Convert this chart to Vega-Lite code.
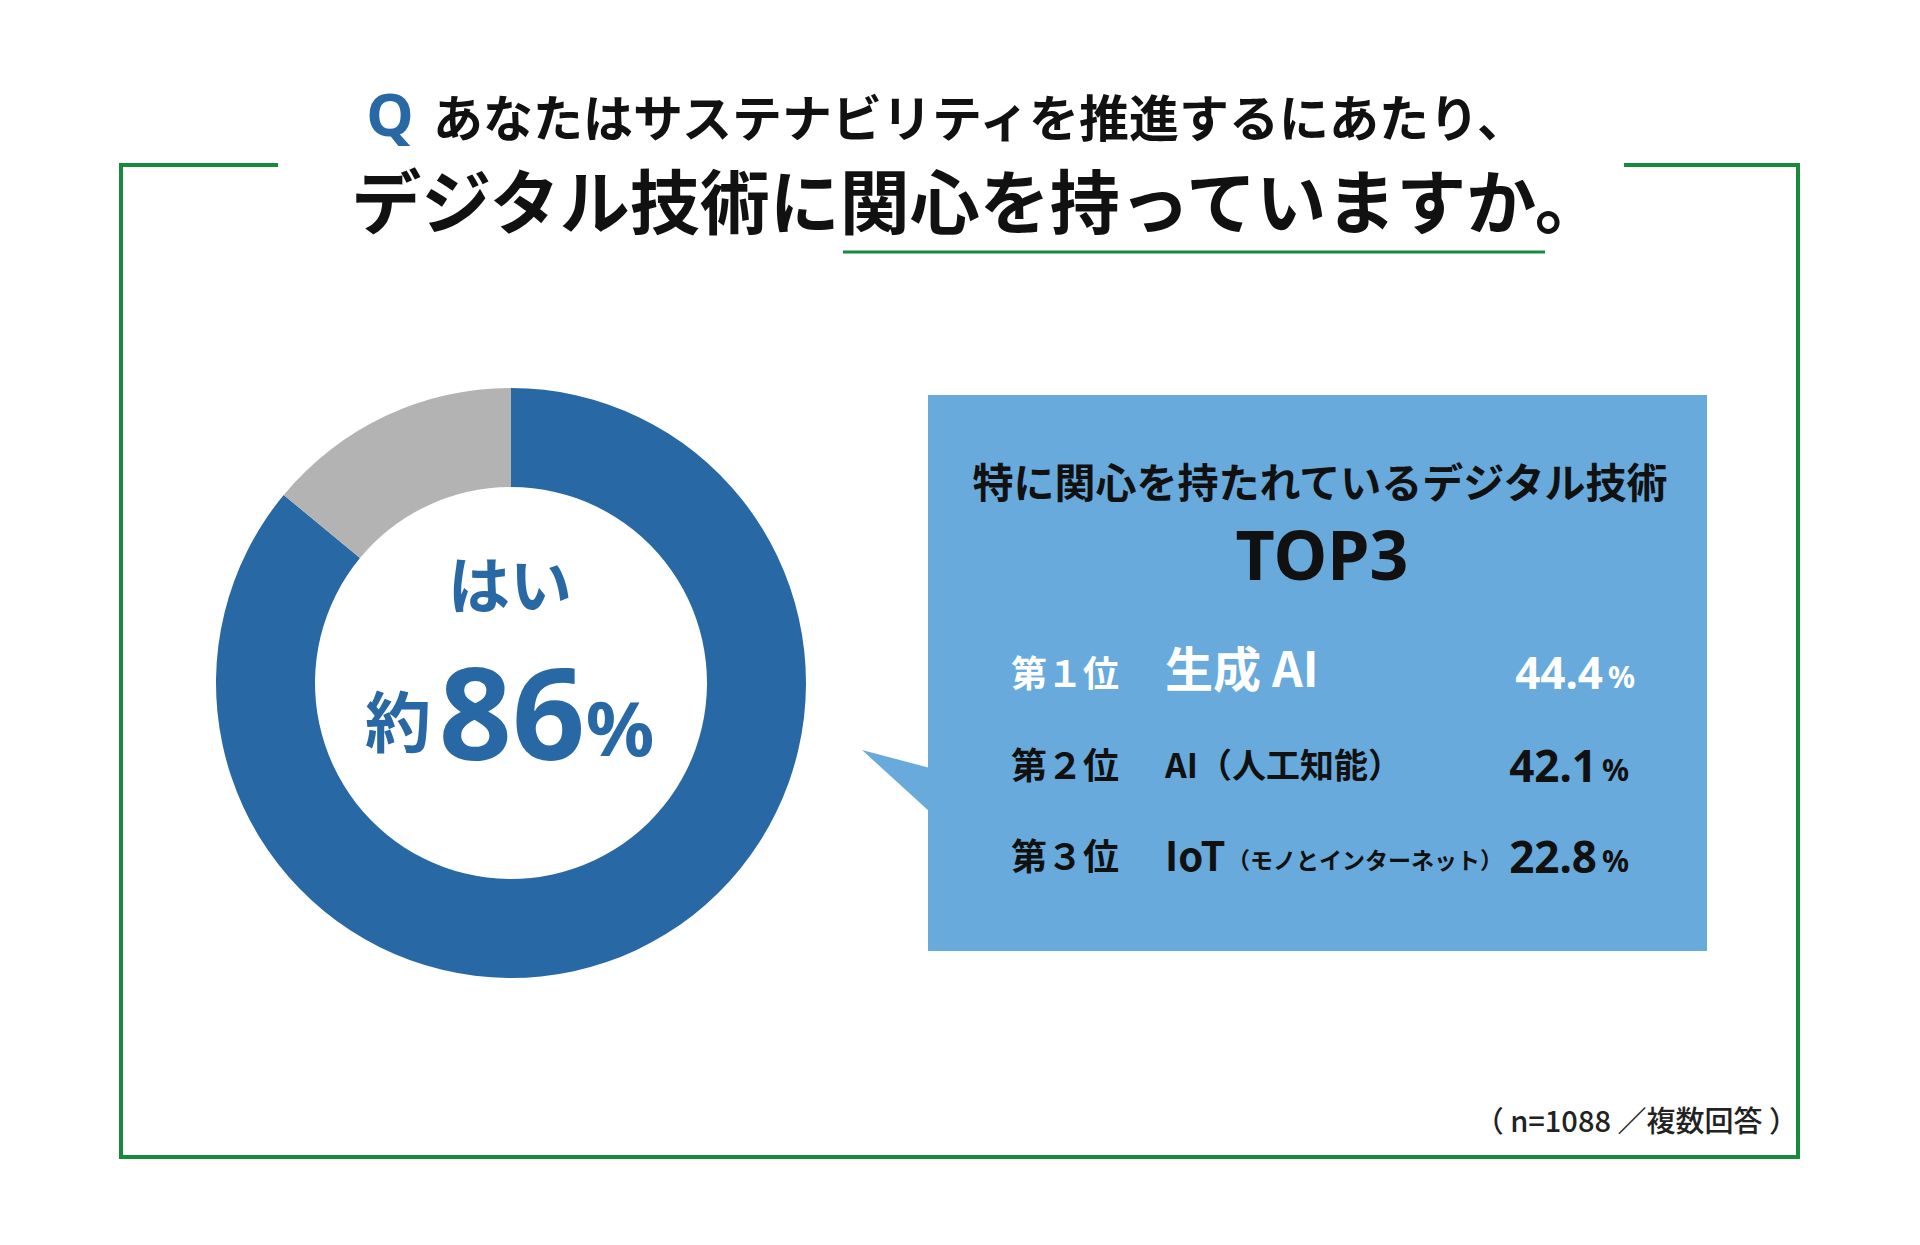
{
  "$schema": "https://vega.github.io/schema/vega-lite/v6.json",
  "width": 1920,
  "height": 1245,
  "padding": 0,
  "autosize": {"type": "fit", "contains": "padding"},
  "background": "#ffffff",
  "config": {
    "view": {"stroke": null},
    "axis": {"disable": true},
    "legend": {"disable": true},
    "text": {"font": "Noto Sans CJK JP"}
  },
  "encoding": {
    "x": {"field": "x", "type": "quantitative", "scale": {"domain": [0, 1920], "nice": false, "zero": false}},
    "y": {"field": "y", "type": "quantitative", "scale": {"domain": [0, 1245], "nice": false, "zero": false, "reverse": true}}
  },
  "layer": [
    {
      "data": {"values": [
        {"part": "frame-left", "x": 121, "y": 165, "x2": 121, "y2": 1157},
        {"part": "frame-bottom", "x": 121, "y": 1157, "x2": 1798, "y2": 1157},
        {"part": "frame-right", "x": 1798, "y": 165, "x2": 1798, "y2": 1157},
        {"part": "frame-top-left", "x": 121, "y": 165, "x2": 276, "y2": 165},
        {"part": "frame-top-right", "x": 1626, "y": 165, "x2": 1798, "y2": 165}
      ]},
      "mark": {"type": "rule", "color": "#178a3d", "strokeWidth": 4, "strokeCap": "square"},
      "encoding": {"x2": {"field": "x2"}, "y2": {"field": "y2"}}
    },
    {
      "data": {"values": [
        {"part": "underline", "x": 843, "y": 252, "x2": 1545, "y2": 252}
      ]},
      "mark": {"type": "rule", "color": "#178a3d", "strokeWidth": 3},
      "encoding": {"x2": {"field": "x2"}, "y2": {"field": "y2"}}
    },
    {
      "data": {"values": [
        {"answer": "はい", "t0": 0, "t1": 86, "x": 511, "y": 683},
        {"answer": "いいえ", "t0": 86, "t1": 100, "x": 511, "y": 683}
      ]},
      "mark": {"type": "arc", "outerRadius": 295, "innerRadius": 196},
      "encoding": {
        "theta": {"field": "t0", "type": "quantitative", "stack": null, "scale": {"domain": [0, 100], "range": [0, 6.283185307]}},
        "theta2": {"field": "t1"},
        "color": {"field": "answer", "type": "nominal", "scale": {"domain": ["はい", "いいえ"], "range": ["#2868a4", "#b3b3b3"]}}
      }
    },
    {
      "data": {"values": [
        {"part": "box", "x": 928, "y": 395, "x2": 1707, "y2": 951}
      ]},
      "mark": {"type": "rect", "color": "#68aadb"},
      "encoding": {"x2": {"field": "x2"}, "y2": {"field": "y2"}}
    },
    {
      "data": {"values": [
        {"x": 862, "y": 750, "y2": 750},
        {"x": 930, "y": 768, "y2": 812}
      ]},
      "mark": {"type": "area", "color": "#68aadb", "interpolate": "linear"},
      "encoding": {"y": {"field": "y", "type": "quantitative", "stack": null}, "y2": {"field": "y2"}}
    },
    {
      "data": {"values": [{"text": "Q", "x": 390, "y": 118}]},
      "mark": {"type": "text", "font": "Noto Sans", "fontSize": 60, "fontWeight": "bold", "color": "#2868a4", "align": "center", "baseline": "middle"},
      "encoding": {"text": {"field": "text"}}
    },
    {
      "data": {"values": [{"text": "あなたはサステナビリティを推進するにあたり、", "x": 433, "y": 122}]},
      "mark": {"type": "text", "fontSize": 50, "fontWeight": "bold", "color": "#111111", "align": "left", "baseline": "middle"},
      "encoding": {"text": {"field": "text"}}
    },
    {
      "data": {"values": [{"text": "デジタル技術に関心を持っていますか。", "x": 978, "y": 208}]},
      "mark": {"type": "text", "fontSize": 70, "fontWeight": "bold", "color": "#111111", "align": "center", "baseline": "middle"},
      "encoding": {"text": {"field": "text"}}
    },
    {
      "data": {"values": [{"text": "はい", "x": 510, "y": 590}]},
      "mark": {"type": "text", "fontSize": 62, "fontWeight": "bold", "color": "#2868a4", "align": "center", "baseline": "middle"},
      "encoding": {"text": {"field": "text"}}
    },
    {
      "data": {"values": [{"text": "約", "x": 398, "y": 727}]},
      "mark": {"type": "text", "fontSize": 66, "fontWeight": "bold", "color": "#2868a4", "align": "center", "baseline": "middle"},
      "encoding": {"text": {"field": "text"}}
    },
    {
      "data": {"values": [{"text": "86", "x": 512, "y": 722}]},
      "mark": {"type": "text", "font": "Noto Sans", "fontSize": 128, "fontWeight": "bold", "color": "#2868a4", "align": "center", "baseline": "middle"},
      "encoding": {"text": {"field": "text"}}
    },
    {
      "data": {"values": [{"text": "%", "x": 620, "y": 733}]},
      "mark": {"type": "text", "font": "Noto Sans", "fontSize": 76, "fontWeight": "bold", "color": "#2868a4", "align": "center", "baseline": "middle"},
      "encoding": {"text": {"field": "text"}}
    },
    {
      "data": {"values": [{"text": "特に関心を持たれているデジタル技術", "x": 1320, "y": 486}]},
      "mark": {"type": "text", "fontSize": 41, "fontWeight": "bold", "color": "#111111", "align": "center", "baseline": "middle"},
      "encoding": {"text": {"field": "text"}}
    },
    {
      "data": {"values": [{"text": "TOP3", "x": 1322, "y": 560}]},
      "mark": {"type": "text", "font": "Noto Sans", "fontSize": 68, "fontWeight": "bold", "color": "#111111", "align": "center", "baseline": "middle"},
      "encoding": {"text": {"field": "text"}}
    },
    {
      "data": {"values": [{"text": "第１位", "x": 1011, "y": 676}]},
      "mark": {"type": "text", "fontSize": 36, "fontWeight": "bold", "color": "#ffffff", "align": "left", "baseline": "middle"},
      "encoding": {"text": {"field": "text"}}
    },
    {
      "data": {"values": [
        {"text": "第２位", "x": 1011, "y": 768},
        {"text": "第３位", "x": 1011, "y": 859}
      ]},
      "mark": {"type": "text", "fontSize": 36, "fontWeight": "bold", "color": "#111111", "align": "left", "baseline": "middle"},
      "encoding": {"text": {"field": "text"}}
    },
    {
      "data": {"values": [{"text": "生成 AI", "x": 1165, "y": 673}]},
      "mark": {"type": "text", "fontSize": 48, "fontWeight": "bold", "color": "#ffffff", "align": "left", "baseline": "middle"},
      "encoding": {"text": {"field": "text"}}
    },
    {
      "data": {"values": [{"text": "AI（人工知能）", "x": 1165, "y": 768}]},
      "mark": {"type": "text", "fontSize": 34, "fontWeight": "bold", "color": "#111111", "align": "left", "baseline": "middle"},
      "encoding": {"text": {"field": "text"}}
    },
    {
      "data": {"values": [{"text": "IoT", "x": 1165, "y": 859}]},
      "mark": {"type": "text", "fontSize": 40, "fontWeight": "bold", "color": "#111111", "align": "left", "baseline": "middle"},
      "encoding": {"text": {"field": "text"}}
    },
    {
      "data": {"values": [{"text": "（モノとインターネット）", "x": 1227, "y": 862}]},
      "mark": {"type": "text", "fontSize": 23, "fontWeight": "bold", "color": "#111111", "align": "left", "baseline": "middle"},
      "encoding": {"text": {"field": "text"}}
    },
    {
      "data": {"values": [{"text": "44.4", "x": 1603, "y": 676}]},
      "mark": {"type": "text", "font": "Noto Sans", "fontSize": 44, "fontWeight": "bold", "color": "#ffffff", "align": "right", "baseline": "middle"},
      "encoding": {"text": {"field": "text"}}
    },
    {
      "data": {"values": [
        {"text": "42.1", "x": 1597, "y": 769},
        {"text": "22.8", "x": 1597, "y": 860}
      ]},
      "mark": {"type": "text", "font": "Noto Sans", "fontSize": 44, "fontWeight": "bold", "color": "#111111", "align": "right", "baseline": "middle"},
      "encoding": {"text": {"field": "text"}}
    },
    {
      "data": {"values": [{"text": "%", "x": 1608, "y": 679}]},
      "mark": {"type": "text", "font": "Noto Sans", "fontSize": 30, "fontWeight": "bold", "color": "#ffffff", "align": "left", "baseline": "middle"},
      "encoding": {"text": {"field": "text"}}
    },
    {
      "data": {"values": [
        {"text": "%", "x": 1602, "y": 772},
        {"text": "%", "x": 1602, "y": 863}
      ]},
      "mark": {"type": "text", "font": "Noto Sans", "fontSize": 30, "fontWeight": "bold", "color": "#111111", "align": "left", "baseline": "middle"},
      "encoding": {"text": {"field": "text"}}
    },
    {
      "data": {"values": [{"text": "（ n=1088 ／複数回答 ）", "x": 1798, "y": 1123}]},
      "mark": {"type": "text", "fontSize": 29, "fontWeight": 500, "color": "#222222", "align": "right", "baseline": "middle"},
      "encoding": {"text": {"field": "text"}}
    }
  ]
}
